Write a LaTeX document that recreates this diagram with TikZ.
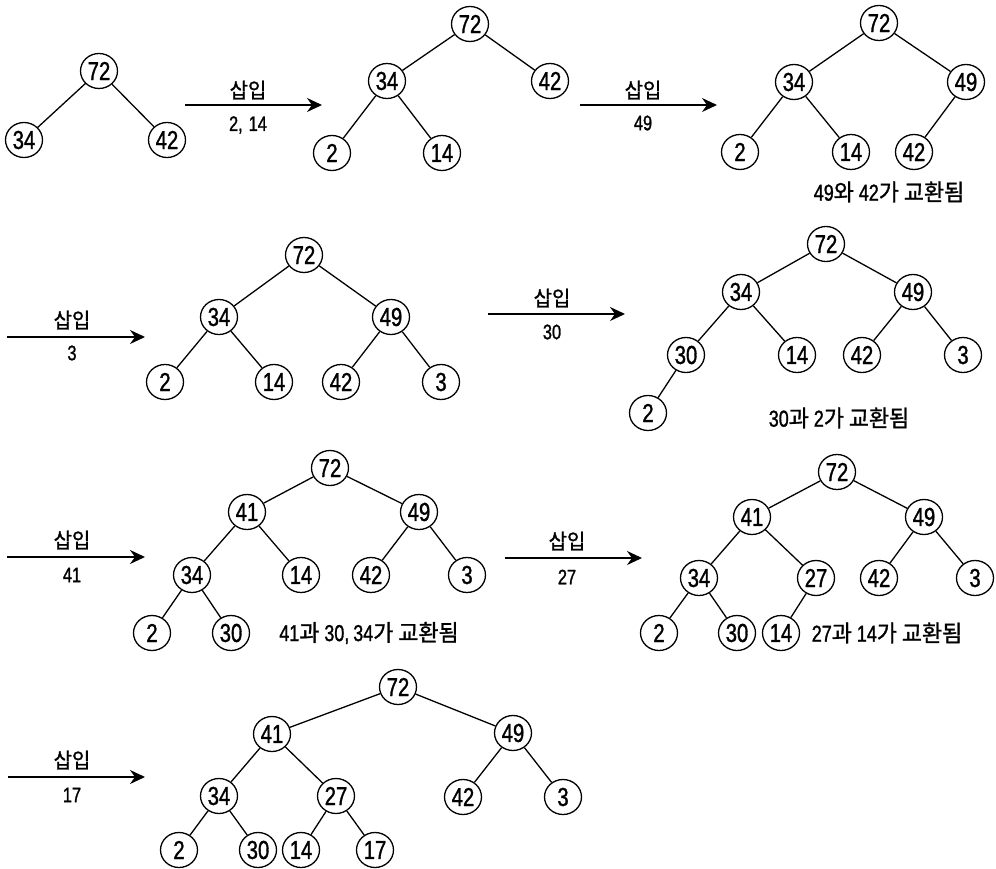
\documentclass[tikz,border=0pt]{standalone}
\usepackage{fontspec}
\setmainfont{Liberation Sans}[FakeStretch=0.78,FakeBold=1.2]
\newfontfamily\kr{Noto Sans CJK KR}[FakeStretch=0.95,FakeBold=1.2]
\usetikzlibrary{arrows.meta,shapes.geometric}
\begin{document}
\begin{tikzpicture}[x=1pt,y=-1pt,
  hn/.style={draw,ellipse,line width=1.3pt,minimum width=37pt,minimum height=35pt,inner sep=0pt,font=\fontsize{26}{26}\selectfont},
  ed/.style={line width=1.3pt},
  ins/.style={-{Stealth[length=15pt,width=14pt,inset=5pt]},line width=1.6pt},
  lab/.style={font=\fontsize{21}{21}\selectfont,inner sep=0pt},
  capt/.style={font=\fontsize{23}{23}\selectfont,inner sep=0pt}]
\useasboundingbox (0,0) rectangle (996,869);

% ---------- Tree A ----------
\node[hn] (a72) at (99,71) {72};
\node[hn] (a34) at (24,140) {34};
\node[hn] (a42) at (167,140) {42};
\draw[ed] (a72) -- (a34);
\draw[ed] (a72) -- (a42);

\coordinate (sA) at (185,105); \coordinate (eA) at (322,105);
\draw[ins] (sA) -- (eA);
\node[lab] (lA1) at (248,90) {\kr 삽입};
\node[lab] (lA2) at (248,125) {2,\hspace{6pt}14};

% ---------- Tree B ----------
\node[hn] (b72) at (470,24) {72};
\node[hn] (b34) at (387,81) {34};
\node[hn] (b42) at (550,81) {42};
\node[hn] (b2) at (332,153) {2};
\node[hn] (b14) at (442,153) {14};
\draw[ed] (b72) -- (b34);
\draw[ed] (b72) -- (b42);
\draw[ed] (b34) -- (b2);
\draw[ed] (b34) -- (b14);

\coordinate (sB) at (580,105); \coordinate (eB) at (717,105);
\draw[ins] (sB) -- (eB);
\node[lab] (lB1) at (643,90) {\kr 삽입};
\node[lab] (lB2) at (643,123) {49};

% ---------- Tree C ----------
\node[hn] (c72) at (879,23) {72};
\node[hn] (c34) at (794,82) {34};
\node[hn] (c49) at (966,82) {49};
\node[hn] (c2) at (740,152) {2};
\node[hn] (c14) at (851,152) {14};
\node[hn] (c42) at (914,152) {42};
\draw[ed] (c72) -- (c34);
\draw[ed] (c72) -- (c49);
\draw[ed] (c34) -- (c2);
\draw[ed] (c34) -- (c14);
\draw[ed] (c49) -- (c42);
\node[capt] (capC) at (889,192) {49{\kr 와} 42{\kr 가} {\kr 교환됨}};

% ---------- Tree D ----------
\coordinate (sD) at (7,337); \coordinate (eD) at (145,337);
\draw[ins] (sD) -- (eD);
\node[lab] (lD1) at (72,320) {\kr 삽입};
\node[lab] (lD2) at (72,353) {3};

\node[hn] (d72) at (304,255) {72};
\node[hn] (d34) at (219,317) {34};
\node[hn] (d49) at (391,317) {49};
\node[hn] (d2) at (165,382) {2};
\node[hn] (d14) at (274,382) {14};
\node[hn] (d42) at (341,382) {42};
\node[hn] (d3) at (441,382) {3};
\draw[ed] (d72) -- (d34);
\draw[ed] (d72) -- (d49);
\draw[ed] (d34) -- (d2);
\draw[ed] (d34) -- (d14);
\draw[ed] (d49) -- (d42);
\draw[ed] (d49) -- (d3);

% ---------- Tree E ----------
\coordinate (sE) at (488,314); \coordinate (eE) at (625,314);
\draw[ins] (sE) -- (eE);
\node[lab] (lE1) at (552,298) {\kr 삽입};
\node[lab] (lE2) at (552,332) {30};

\node[hn] (e72) at (826,244) {72};
\node[hn] (e34) at (741,292) {34};
\node[hn] (e49) at (913,292) {49};
\node[hn] (e30) at (686,355) {30};
\node[hn] (e14) at (797,355) {14};
\node[hn] (e42) at (862,355) {42};
\node[hn] (e3) at (963,355) {3};
\node[hn] (e2) at (648,413) {2};
\draw[ed] (e72) -- (e34);
\draw[ed] (e72) -- (e49);
\draw[ed] (e34) -- (e30);
\draw[ed] (e34) -- (e14);
\draw[ed] (e49) -- (e42);
\draw[ed] (e49) -- (e3);
\draw[ed] (e30) -- (e2);
\node[capt] (capE) at (839,418) {30{\kr 과} 2{\kr 가} {\kr 교환됨}};

% ---------- Tree F ----------
\coordinate (sF) at (7,557); \coordinate (eF) at (145,557);
\draw[ins] (sF) -- (eF);
\node[lab] (lF1) at (72,540) {\kr 삽입};
\node[lab] (lF2) at (72,575) {41};

\node[hn] (f72) at (330,468) {72};
\node[hn] (f41) at (247,512) {41};
\node[hn] (f49) at (419,512) {49};
\node[hn] (f34) at (192,575) {34};
\node[hn] (f14) at (301,575) {14};
\node[hn] (f42) at (371,575) {42};
\node[hn] (f3) at (467,575) {3};
\node[hn] (f2) at (152,633) {2};
\node[hn] (f30) at (231,633) {30};
\draw[ed] (f72) -- (f41);
\draw[ed] (f72) -- (f49);
\draw[ed] (f41) -- (f34);
\draw[ed] (f41) -- (f14);
\draw[ed] (f49) -- (f42);
\draw[ed] (f49) -- (f3);
\draw[ed] (f34) -- (f2);
\draw[ed] (f34) -- (f30);
\node[capt] (capF) at (369,633) {41{\kr 과} 30,\hspace{4pt}34{\kr 가} {\kr 교환됨}};

% ---------- Tree G ----------
\coordinate (sG) at (505,558); \coordinate (eG) at (642,558);
\draw[ins] (sG) -- (eG);
\node[lab] (lG1) at (567,541) {\kr 삽입};
\node[lab] (lG2) at (567,577) {27};

\node[hn] (g72) at (837,472) {72};
\node[hn] (g41) at (752,517) {41};
\node[hn] (g49) at (924,517) {49};
\node[hn] (g34) at (699,578) {34};
\node[hn] (g27) at (816,578) {27};
\node[hn] (g42) at (879,578) {42};
\node[hn] (g3) at (975,578) {3};
\node[hn] (g2) at (659,633) {2};
\node[hn] (g30) at (737,633) {30};
\node[hn] (g14) at (781,633) {14};
\draw[ed] (g72) -- (g41);
\draw[ed] (g72) -- (g49);
\draw[ed] (g41) -- (g34);
\draw[ed] (g41) -- (g27);
\draw[ed] (g49) -- (g42);
\draw[ed] (g49) -- (g3);
\draw[ed] (g34) -- (g2);
\draw[ed] (g34) -- (g30);
\draw[ed] (g27) -- (g14);
\node[capt] (capG) at (887,633) {27{\kr 과} 14{\kr 가} {\kr 교환됨}};

% ---------- Tree H ----------
\coordinate (sH) at (8,777); \coordinate (eH) at (145,777);
\draw[ins] (sH) -- (eH);
\node[lab] (lH1) at (72,760) {\kr 삽입};
\node[lab] (lH2) at (72,795) {17};

\node[hn] (h72) at (398,687) {72};
\node[hn] (h41) at (272,734) {41};
\node[hn] (h49) at (513,733) {49};
\node[hn] (h34) at (219,796) {34};
\node[hn] (h27) at (336,796) {27};
\node[hn] (h42) at (463,797) {42};
\node[hn] (h3) at (563,797) {3};
\node[hn] (h2) at (179,850) {2};
\node[hn] (h30) at (258,850) {30};
\node[hn] (h14) at (301,850) {14};
\node[hn] (h17) at (375,850) {17};
\draw[ed] (h72) -- (h41);
\draw[ed] (h72) -- (h49);
\draw[ed] (h41) -- (h34);
\draw[ed] (h41) -- (h27);
\draw[ed] (h49) -- (h42);
\draw[ed] (h49) -- (h3);
\draw[ed] (h34) -- (h2);
\draw[ed] (h34) -- (h30);
\draw[ed] (h27) -- (h14);
\draw[ed] (h27) -- (h17);
\end{tikzpicture}
\end{document}
